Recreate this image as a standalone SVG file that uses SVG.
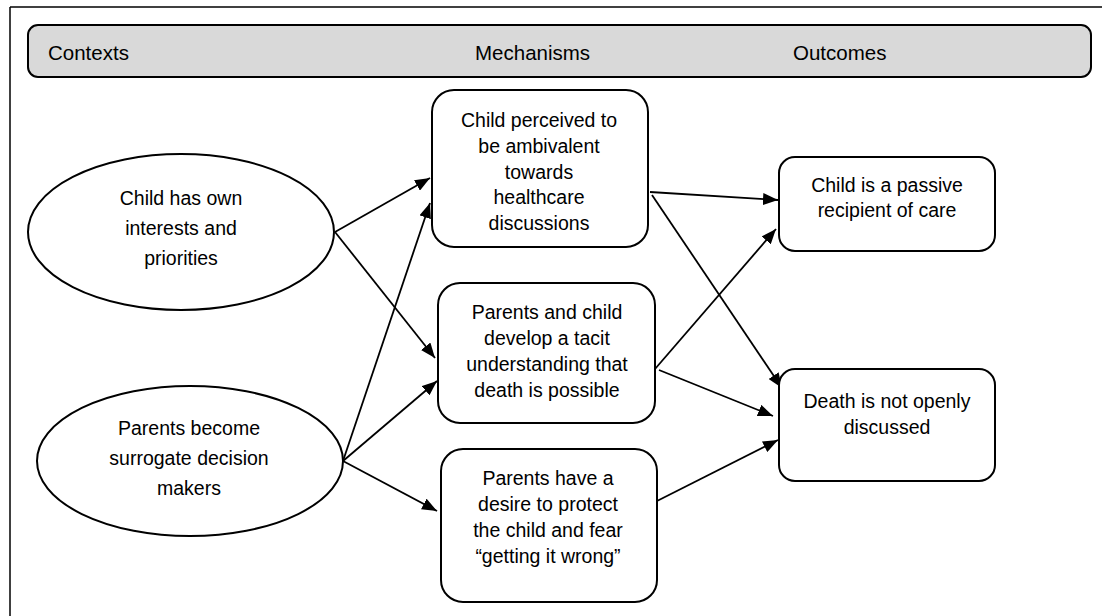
<svg xmlns="http://www.w3.org/2000/svg" width="1102" height="616" viewBox="0 0 1102 616">
<style>
.t{font-family:"Liberation Sans",Arial,sans-serif;font-size:19.5px;fill:#000;text-anchor:middle}
.h{font-family:"Liberation Sans",Arial,sans-serif;font-size:20.5px;fill:#000}
.n{fill:#fff;stroke:#000;stroke-width:2}
.c{fill:none;stroke:#000;stroke-width:1.8}
</style>
<defs>
<marker id="ah" markerUnits="userSpaceOnUse" markerWidth="16" markerHeight="12" refX="15" refY="6" orient="auto">
<path d="M0,0 L15,6 L0,12 Z" fill="#000"/>
</marker>
</defs>
<rect width="1102" height="616" fill="#fff"/>
<g id="frame">
<line x1="10" y1="7" x2="1102" y2="7" stroke="#000" stroke-width="1.5"/>
<line x1="10" y1="7" x2="10" y2="616" stroke="#000" stroke-width="1.5"/>
</g>
<g id="header">
<rect x="28" y="25" width="1063" height="52" rx="10" fill="#d9d9d9" stroke="#000" stroke-width="2"/>
<text class="h" x="48" y="60">Contexts</text>
<text class="h" x="475" y="60">Mechanisms</text>
<text class="h" x="793" y="60">Outcomes</text>
</g>
<g id="connectors">
<line class="c" x1="335" y1="232" x2="430" y2="178" marker-end="url(#ah)"/>
<line class="c" x1="335" y1="232" x2="435" y2="358" marker-end="url(#ah)"/>
<line class="c" x1="343" y1="461" x2="430" y2="203" marker-end="url(#ah)"/>
<line class="c" x1="343" y1="461" x2="437" y2="381" marker-end="url(#ah)"/>
<line class="c" x1="343" y1="461" x2="437" y2="511" marker-end="url(#ah)"/>
<line class="c" x1="650" y1="192" x2="778" y2="200" marker-end="url(#ah)"/>
<line class="c" x1="652" y1="195" x2="782" y2="388" marker-end="url(#ah)"/>
<line class="c" x1="655" y1="369" x2="776" y2="229" marker-end="url(#ah)"/>
<line class="c" x1="659" y1="370" x2="773" y2="416" marker-end="url(#ah)"/>
<line class="c" x1="657" y1="501" x2="778" y2="440" marker-end="url(#ah)"/>
</g>
<g id="ctx1">
<ellipse class="n" cx="181" cy="232" rx="153" ry="78"/>
<text class="t" x="181" y="205">Child has own</text>
<text class="t" x="181" y="235">interests and</text>
<text class="t" x="181" y="265">priorities</text>
</g>
<g id="ctx2">
<ellipse class="n" cx="190" cy="461" rx="153" ry="75"/>
<text class="t" x="189" y="435">Parents become</text>
<text class="t" x="189" y="465">surrogate decision</text>
<text class="t" x="189" y="495">makers</text>
</g>
<g id="mech1">
<rect class="n" x="432" y="90" width="216" height="157" rx="22"/>
<text class="t" x="539" y="127">Child perceived to</text>
<text class="t" x="539" y="153">be ambivalent</text>
<text class="t" x="539" y="179">towards</text>
<text class="t" x="539" y="204">healthcare</text>
<text class="t" x="539" y="230">discussions</text>
</g>
<g id="mech2">
<rect class="n" x="438" y="283" width="217" height="140" rx="22"/>
<text class="t" x="547" y="319">Parents and child</text>
<text class="t" x="547" y="345">develop a tacit</text>
<text class="t" x="547" y="371">understanding that</text>
<text class="t" x="547" y="397">death is possible</text>
</g>
<g id="mech3">
<rect class="n" x="441" y="449" width="216" height="153" rx="22"/>
<text class="t" x="548" y="485">Parents have a</text>
<text class="t" x="548" y="511">desire to protect</text>
<text class="t" x="548" y="537">the child and fear</text>
<text class="t" x="548" y="563">“getting it wrong”</text>
</g>
<g id="out1">
<rect class="n" x="779" y="157" width="216" height="94" rx="16"/>
<text class="t" x="887" y="192">Child is a passive</text>
<text class="t" x="887" y="217">recipient of care</text>
</g>
<g id="out2">
<rect class="n" x="779" y="369" width="216" height="112" rx="16"/>
<text class="t" x="887" y="408">Death is not openly</text>
<text class="t" x="887" y="434">discussed</text>
</g>
</svg>
